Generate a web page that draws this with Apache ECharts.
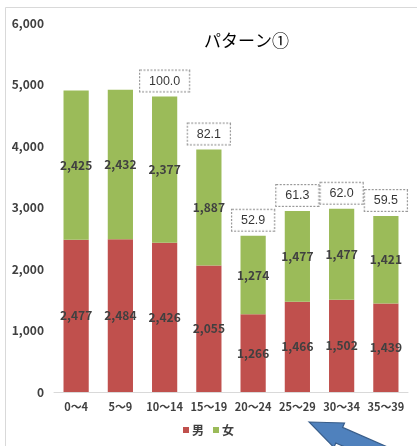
<!DOCTYPE html>
<html><head><meta charset="utf-8">
<script src="https://cdn.jsdelivr.net/npm/echarts@6/dist/echarts.min.js"></script>
<style>html,body{margin:0;padding:0;background:#fff;}#c{width:417px;height:446px;}</style>
</head><body><div id="c"></div>
<script>
const categories = ['0～4','5～9','10～14','15～19','20～24','25～29','30～34','35～39'];
const male = [2477, 2484, 2426, 2055, 1266, 1466, 1502, 1439];
const female = [2425, 2432, 2377, 1887, 1274, 1477, 1477, 1421];
const ratio = [null, null, '100.0', '82.1', '52.9', '61.3', '62.0', '59.5'];
const yTicks = [0, 1000, 2000, 3000, 4000, 5000, 6000];

const totals = male.map((m, i) => ratio[i] === null ? null : m + female[i]);
const fmt = v => Number(v).toLocaleString('en-US');
const jp = "'Noto Sans CJK JP', sans-serif";
const lbl = '#404040';

const chart = echarts.init(document.getElementById('c'));
chart.setOption({
  animation: false,
  backgroundColor: '#fff',
  title: {
    text: 'パターン①', left: 199, top: 27,
    textStyle: { fontFamily: jp, fontSize: 17, fontWeight: 'normal', color: '#000' }
  },
  legend: {
    data: ['男', '女'], bottom: 5, left: 'center',
    itemWidth: 6, itemHeight: 6, itemGap: 9, icon: 'rect',
    textStyle: { fontFamily: jp, fontSize: 12, fontWeight: 'bold', color: lbl, padding: [0,0,0,-2] }
  },
  grid: { left: 54, right: 9, top: 23, bottom: 54, containLabel: false },
  xAxis: {
    type: 'category', data: categories,
    axisLine: { lineStyle: { color: '#d9d9d9' } },
    axisTick: { show: false },
    axisLabel: { fontFamily: jp, fontSize: 11, fontWeight: 'bold', color: lbl, margin: 9, interval: 0 }
  },
  yAxis: {
    type: 'value', min: yTicks[0], max: yTicks[yTicks.length - 1], interval: 1000,
    splitLine: { show: false }, axisLine: { show: false }, axisTick: { show: false },
    axisLabel: { fontFamily: jp, fontSize: 12, fontWeight: 'bold', color: lbl, margin: 10, formatter: fmt }
  },
  graphic: [
    { type: 'rect', shape: { x: 5.5, y: 7.5, width: 430, height: 460 }, style: { fill: 'none', stroke: '#d9d9d9', lineWidth: 1 }, silent: true, z: 0 },
    { type: 'polygon', shape: { points: [[309,422],[344.5,423],[342.6,427.4],[431,466],[424.6,481.8],[335.8,443],[333.9,447.4]] },
      style: { fill: '#4f81bd', stroke: '#385d8a', lineWidth: 1.2 }, z: 100 }
  ],
  series: [
    {
      name: '男', type: 'bar', stack: 'a', data: male, barCategoryGap: '43%',
      itemStyle: { color: '#c0504d' },
      label: { show: true, position: 'inside', formatter: p => fmt(p.value), fontFamily: jp, fontSize: 12, fontWeight: 'bold', color: lbl }
    },
    {
      name: '女', type: 'bar', stack: 'a', data: female,
      itemStyle: { color: '#9bbb59' },
      label: { show: true, position: 'inside', formatter: p => fmt(p.value), fontFamily: jp, fontSize: 12, fontWeight: 'bold', color: lbl }
    },
    {
      name: '比率', type: 'scatter', data: totals, symbolSize: 0, silent: true,
      label: {
        show: true, position: 'top', distance: 5,
        formatter: p => ratio[p.dataIndex],
        fontFamily: "'Liberation Sans', Arial, sans-serif", fontSize: 12.5, color: '#000',
        backgroundColor: '#fff', borderColor: '#7f7f7f', borderWidth: 1, borderType: [2, 1.5],
        padding: [4, 9, 4, 9]
      }
    }
  ]
});
</script></body></html>
